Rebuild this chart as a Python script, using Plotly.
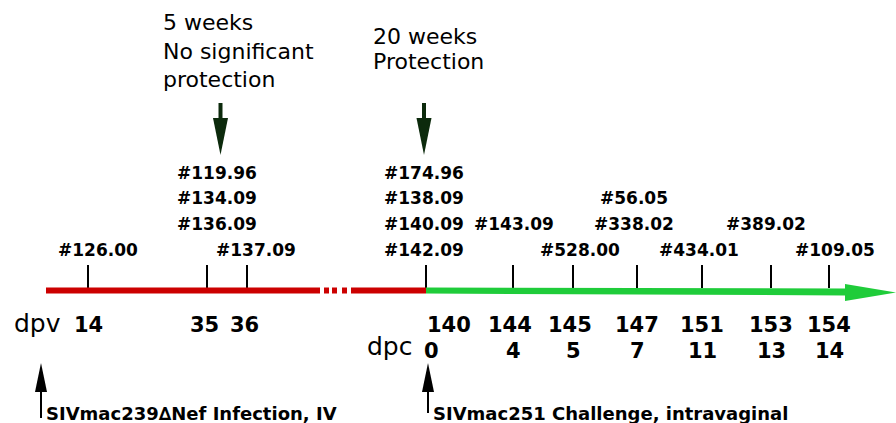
import plotly.graph_objects as go

# ---------------- data ----------------
dpv = [14, 35, 36, 140, 144, 145, 147, 151, 153, 154]
dpc = [None, None, None, 0, 4, 5, 7, 11, 13, 14]
animals = [
    ["#126.00"],
    ["#119.96", "#134.09", "#136.09"],
    ["#137.09"],
    ["#174.96", "#138.09", "#140.09", "#142.09"],
    ["#143.09"],
    ["#528.00"],
    ["#56.05", "#338.02"],
    ["#434.01"],
    ["#389.02"],
    ["#109.05"],
]
top_left_text = ["5 weeks", "No significant", "protection"]
top_right_text = ["20 weeks", "Protection"]
event_labels = ["SIVmac239\u2206Nef Infection, IV", "SIVmac251 Challenge, intravaginal"]

# ---------------- layout helpers (schematic positions, pixels) ----------------
W, H = 896, 423
tick_x = [88, 207, 247, 426, 513, 573, 637, 702, 771, 829]
label_shift = [10, 10, 9, -2, 1, 7, -3, -3, -5, 6]
base_row = [0, 1, 0, 0, 1, 0, 1, 0, 1, 0]
row_y = [250, 224, 198, 173]
line_y0, line_y1 = 287.5, 293.5
RED = "#cc0000"
GREEN = "#1fcc3a"
DKGREEN = "#0c2a0c"
FONT = "DejaVu Sans"

fig = go.Figure()

shapes = []
# red timeline (vaccination period) with break
shapes.append(dict(type="rect", x0=46, x1=320, y0=line_y0, y1=line_y1, fillcolor=RED, line_width=0))
for a, b in [(324, 329), (332, 337), (342, 347)]:
    shapes.append(dict(type="rect", x0=a, x1=b, y0=line_y0, y1=line_y1, fillcolor=RED, line_width=0))
shapes.append(dict(type="rect", x0=351, x1=tick_x[3], y0=line_y0, y1=line_y1, fillcolor=RED, line_width=0))
# green timeline (challenge period) with arrow head
shapes.append(dict(type="path", path=f"M {tick_x[3]},{line_y0} L 846,{line_y0+1} L 846,{line_y1+2} L {tick_x[3]},{line_y1} Z",
                   fillcolor=GREEN, line_width=0))
shapes.append(dict(type="path", path="M 845,284 L 896,292.5 L 845,301 Z", fillcolor=GREEN, line_width=0))

# down arrows (dark green)
for ax in [220.5, 424]:
    shapes.append(dict(type="rect", x0=ax-2, x1=ax+2, y0=103, y1=119, fillcolor=DKGREEN, line_width=0))
    shapes.append(dict(type="path", path=f"M {ax-7.5},118 L {ax+7.5},118 L {ax},155 Z", fillcolor=DKGREEN, line_width=0))

# up arrows (black)
for ax, yb in [(41, 418), (428, 413)]:
    shapes.append(dict(type="rect", x0=ax-1, x1=ax+1, y0=390, y1=yb, fillcolor="black", line_width=0))
    shapes.append(dict(type="path", path=f"M {ax-6},392 L {ax+6},392 L {ax},363 Z", fillcolor="black", line_width=0))

# tick marks
tx, ty = [], []
for x in tick_x:
    tx += [x, x, None]
    ty += [265, 288, None]
fig.add_trace(go.Scatter(x=tx, y=ty, mode="lines", line=dict(color="black", width=2), hoverinfo="skip", showlegend=False))

ann = []
# animal labels above the ticks
for i, labs in enumerate(animals):
    n = len(labs)
    for j, lab in enumerate(labs):
        row = base_row[i] + (n - 1 - j)
        ann.append(dict(x=tick_x[i] + label_shift[i], y=row_y[row], text=lab, showarrow=False,
                        xanchor="center", yanchor="middle",
                        font=dict(family=FONT, size=17, color="black", weight="bold")))

# dpv / dpc numbers
for i, v in enumerate(dpv):
    x = tick_x[i]
    if v == 140:
        ann.append(dict(x=x - 1, y=325, text=str(v), showarrow=False, xanchor="left", yanchor="middle",
                        font=dict(family=FONT, size=21, color="black", weight="bold")))
    else:
        ann.append(dict(x=x - 3 if i in (1, 2, 4, 5) else x, y=325, text=str(v), showarrow=False,
                        xanchor="center", yanchor="middle",
                        font=dict(family=FONT, size=21, color="black", weight="bold")))
for i, v in enumerate(dpc):
    if v is None:
        continue
    ann.append(dict(x=tick_x[i] + (5 if v == 0 else 0), y=351, text=str(v), showarrow=False,
                    xanchor="center", yanchor="middle",
                    font=dict(family=FONT, size=21, color="black", weight="bold")))

ann.append(dict(x=12, y=323, text="dpv", showarrow=False, xanchor="left", yanchor="middle",
                font=dict(family=FONT, size=25, color="black")))
ann.append(dict(x=365, y=346, text="dpc", showarrow=False, xanchor="left", yanchor="middle",
                font=dict(family=FONT, size=25, color="black")))

# top annotations
for k, (t, y) in enumerate(zip(top_left_text, [22, 51, 79])):
    ann.append(dict(x=161, y=y, text=t, showarrow=False, xanchor="left", yanchor="middle",
                    font=dict(family=FONT, size=22, color="black")))
for t, y in zip(top_right_text, [36, 61]):
    ann.append(dict(x=371, y=y, text=t, showarrow=False, xanchor="left", yanchor="middle",
                    font=dict(family=FONT, size=22, color="black")))

# event labels
ann.append(dict(x=44, y=413, text=event_labels[0], showarrow=False, xanchor="left", yanchor="middle",
                font=dict(family=FONT, size=18, color="black", weight="bold")))
ann.append(dict(x=431, y=413, text=event_labels[1], showarrow=False, xanchor="left", yanchor="middle",
                font=dict(family=FONT, size=18, color="black", weight="bold")))

fig.update_layout(
    width=W, height=H,
    margin=dict(l=0, r=0, t=0, b=0),
    paper_bgcolor="white", plot_bgcolor="white",
    xaxis=dict(range=[0, W], visible=False, fixedrange=True),
    yaxis=dict(range=[H, 0], visible=False, fixedrange=True),
    shapes=shapes, annotations=ann, showlegend=False,
)
fig.write_html("out.html", config={"displayModeBar": False},
               post_script="document.body.style.margin='0';document.body.style.overflow='hidden';")
